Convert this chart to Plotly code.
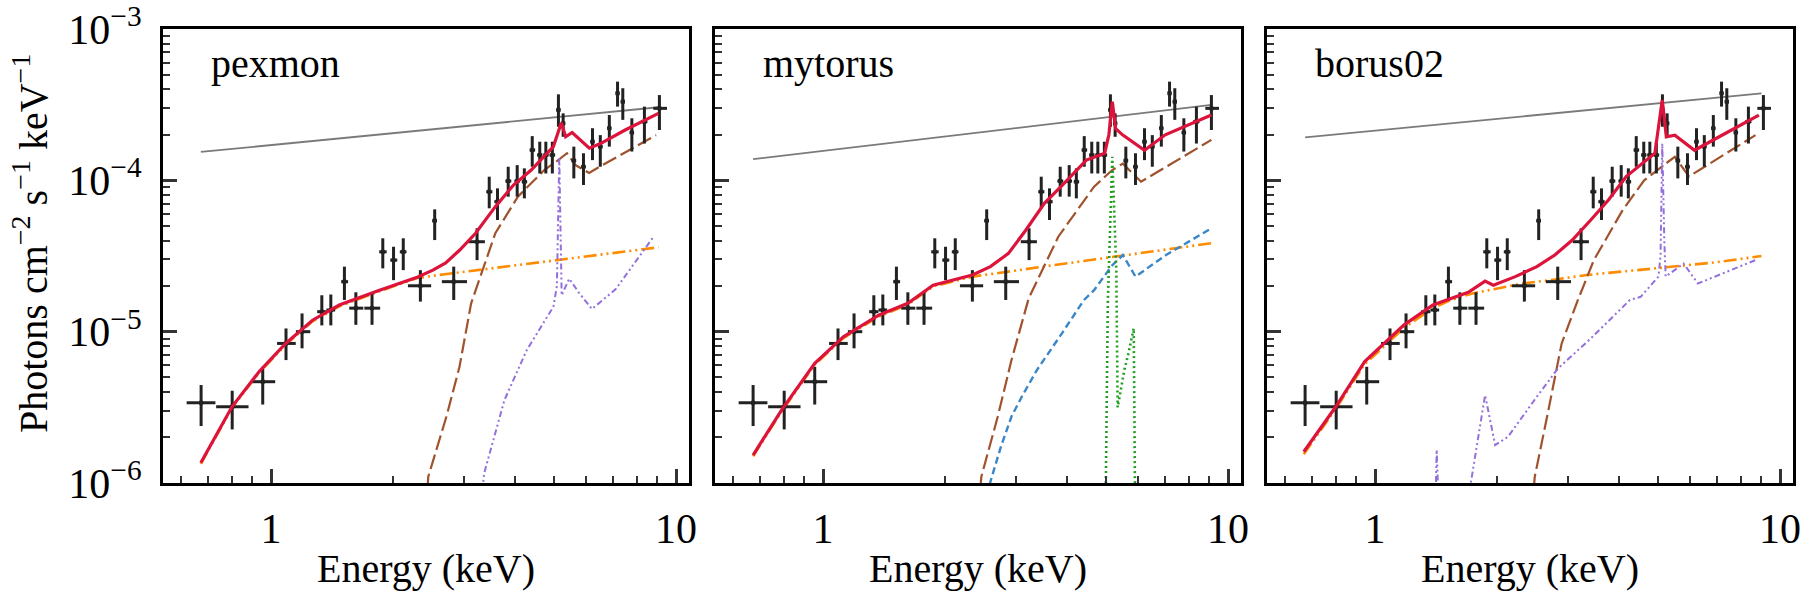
import plotly.graph_objects as go

W, H = 1814, 599

# ---------------- observed spectrum (same in all panels) ----------------
energy = [0.672, 0.802, 0.954, 1.089, 1.193, 1.335, 1.405, 1.518, 1.62, 1.776, 1.888, 2.007, 2.121,
          2.338, 2.536, 2.826, 3.227, 3.458, 3.625, 3.852, 4.054, 4.222, 4.416, 4.609, 4.771, 4.951,
          5.125, 5.264, 5.594, 5.909, 6.220, 6.503, 6.845, 7.172, 7.39, 7.78, 8.356, 9.10]
energy_lo = [0.619, 0.732, 0.897, 1.035, 1.152, 1.30, 1.37, 1.49, 1.56, 1.70, 1.85, 1.97, 2.08,
             2.178, 2.50, 2.642, 3.078, 3.40, 3.56, 3.79, 3.99, 4.16, 4.35, 4.54, 4.70, 4.87,
             5.06, 5.20, 5.52, 5.83, 6.14, 6.42, 6.76, 7.09, 7.30, 7.68, 8.20, 8.79]
energy_hi = [0.729, 0.88, 1.024, 1.151, 1.25, 1.37, 1.44, 1.55, 1.69, 1.86, 1.93, 2.05, 2.16,
             2.486, 2.57, 3.048, 3.374, 3.52, 3.69, 3.92, 4.12, 4.29, 4.49, 4.68, 4.85, 5.03,
             5.19, 5.33, 5.67, 5.99, 6.30, 6.59, 6.93, 7.26, 7.48, 7.88, 8.50, 9.50]
flux = [3.39e-6, 3.19e-6, 4.67e-6, 8.36e-6, 1.0e-5, 1.355e-5, 1.39e-5, 2.14e-5, 1.43e-5, 1.43e-5,
        3.37e-5, 2.97e-5, 3.37e-5, 2.01e-5, 5.41e-5, 2.14e-5, 3.93e-5, 8.41e-5, 7.23e-5, 9.89e-5,
        9.89e-5, 9.79e-5, 1.585e-4, 1.47e-4, 1.47e-4, 1.47e-4, 2.92e-4, 2.38e-4, 1.35e-4, 1.23e-4,
        1.80e-4, 1.67e-4, 2.21e-4, 3.76e-4, 3.31e-4, 2.07e-4, 2.44e-4, 2.99e-4]
flux_lo = [2.38e-6, 2.26e-6, 3.30e-6, 6.49e-6, 7.76e-6, 1.10e-5, 1.10e-5, 1.62e-5, 1.11e-5, 1.11e-5,
           2.62e-5, 2.19e-5, 2.55e-5, 1.58e-5, 4.03e-5, 1.62e-5, 2.97e-5, 6.53e-5, 5.47e-5, 7.80e-5,
           7.80e-5, 7.60e-5, 1.23e-4, 1.11e-4, 1.11e-4, 1.11e-4, 2.26e-4, 1.94e-4, 1.03e-4, 9.31e-5,
           1.36e-4, 1.23e-4, 1.67e-4, 3.07e-4, 2.51e-4, 1.55e-4, 1.75e-4, 2.15e-4]
flux_hi = [4.44e-6, 4.07e-6, 5.86e-6, 1.05e-5, 1.32e-5, 1.74e-5, 1.76e-5, 2.69e-5, 1.82e-5, 1.82e-5,
           4.14e-5, 3.64e-5, 4.14e-5, 2.55e-5, 6.43e-5, 2.69e-5, 4.82e-5, 1.057e-4, 8.85e-5, 1.23e-4,
           1.26e-4, 1.20e-4, 1.96e-4, 1.80e-4, 1.80e-4, 1.80e-4, 3.70e-4, 2.77e-4, 1.67e-4, 1.51e-4,
           2.21e-4, 1.99e-4, 2.70e-4, 4.49e-4, 4.06e-4, 2.57e-4, 3.07e-4, 3.66e-4]

panel_names = ["pexmon", "mytorus", "borus02"]

# ---------------- pexmon model ----------------
pex_intr_e = [0.671, 9.05]
pex_intr_f = [1.54e-4, 3.04e-4]
pex_total_e = [0.671, 0.801, 0.934, 1.087, 1.266, 1.474, 1.853, 2.296, 2.51, 2.70, 2.92, 3.20, 3.58,
               3.97, 4.39, 4.98, 5.21, 5.34, 5.54, 6.11, 6.51, 7.49, 9.05]
pex_total_f = [1.36e-6, 3.19e-6, 5.43e-6, 8.36e-6, 1.19e-5, 1.50e-5, 1.88e-5, 2.29e-5, 2.55e-5,
               2.85e-5, 3.45e-5, 4.47e-5, 6.70e-5, 9.31e-5, 1.17e-4, 1.67e-4, 2.40e-4, 1.94e-4,
               2.07e-4, 1.63e-4, 1.75e-4, 2.15e-4, 2.77e-4]
pex_scat_e = [0.671, 0.801, 0.934, 1.087, 1.266, 1.474, 1.853, 2.296, 2.6, 3.5, 5.0, 7.0, 9.05]
pex_scat_f = [1.34e-6, 3.14e-6, 5.35e-6, 8.2e-6, 1.17e-5, 1.47e-5, 1.85e-5, 2.26e-5, 2.37e-5,
              2.62e-5, 2.96e-5, 3.31e-5, 3.61e-5]
pex_refl_e = [2.40, 2.445, 2.71, 2.92, 3.12, 3.58, 4.07, 4.73, 5.10, 5.38, 5.65, 6.10, 6.58, 8.93]
pex_refl_f = [5.0e-7, 1.10e-6, 2.74e-6, 5.86e-6, 1.54e-5, 4.47e-5, 7.80e-5, 1.17e-4, 1.35e-4,
              1.51e-4, 1.26e-4, 1.12e-4, 1.26e-4, 1.99e-4]
pex_line_e = [3.25, 3.36, 3.77, 4.28, 4.98, 5.08, 5.15, 5.22, 5.45, 5.75, 6.2, 7.1, 8.8]
pex_line_f = [5.0e-7, 1.16e-6, 3.53e-6, 7.55e-6, 1.46e-5, 2.0e-5, 1.43e-4, 1.74e-5, 2.24e-5,
              1.82e-5, 1.41e-5, 1.91e-5, 4.24e-5]

# ---------------- mytorus model ----------------
myt_intr_e = [0.672, 9.1]
myt_intr_f = [1.38e-4, 3.15e-4]
myt_total_e = [0.672, 0.79, 0.954, 1.123, 1.376, 1.62, 1.87, 2.338, 2.59, 2.87, 3.17, 3.52, 3.90,
               4.47, 4.96, 5.08, 5.18, 5.28, 5.5, 6.22, 7.0, 9.1]
myt_total_f = [1.53e-6, 3.03e-6, 6.17e-6, 9.25e-6, 1.29e-5, 1.54e-5, 2.03e-5, 2.37e-5, 2.69e-5,
               3.29e-5, 4.70e-5, 7.05e-5, 9.31e-5, 1.36e-4, 1.51e-4, 2.0e-4, 3.31e-4, 2.19e-4,
               1.99e-4, 1.58e-4, 2.0e-4, 2.70e-4]
myt_scat_e = [0.672, 0.79, 0.954, 1.123, 1.376, 1.62, 1.87, 2.34, 3.5, 5.0, 7.0, 9.1]
myt_scat_f = [1.50e-6, 2.97e-6, 6.05e-6, 9.07e-6, 1.26e-5, 1.51e-5, 1.99e-5, 2.31e-5, 2.69e-5,
              3.07e-5, 3.48e-5, 3.84e-5]
myt_refl_e = [2.40, 2.46, 2.70, 2.92, 3.22, 3.81, 4.67, 5.18, 5.5, 5.85, 6.10, 9.1]
myt_refl_f = [5.0e-7, 1.10e-6, 2.74e-6, 6.49e-6, 1.66e-5, 4.24e-5, 9.08e-5, 1.17e-4, 1.29e-4,
              1.10e-4, 9.79e-5, 1.85e-4]
myt_torus_e = [2.52, 2.59, 2.75, 2.92, 3.11, 3.38, 3.89, 4.41, 4.67, 5.18, 5.5, 5.91, 7.03, 9.1]
myt_torus_f = [5.0e-7, 1.02e-6, 1.74e-6, 2.75e-6, 3.80e-6, 5.62e-6, 9.75e-6, 1.62e-5, 1.88e-5,
               2.75e-5, 3.21e-5, 2.31e-5, 3.21e-5, 4.82e-5]
myt_line_e = [4.97, 5.05, 5.18, 5.30, 5.34, 5.44, 5.55, 5.67, 5.79, 5.85, 5.91]
myt_line_f = [3.2e-7, 1.58e-5, 1.43e-4, 2.51e-5, 3.16e-6, 4.27e-6, 5.62e-6, 7.08e-6, 9.33e-6,
              1.05e-5, 3.2e-7]

# ---------------- borus02 model ----------------
bor_intr_e = [0.672, 9.0]
bor_intr_f = [1.92e-4, 3.76e-4]
bor_total_e = [0.667, 0.80, 0.943, 1.18, 1.39, 1.54, 1.70, 1.87, 1.96, 2.22, 2.51, 2.78, 3.07, 3.41,
               3.77, 4.17, 4.62, 4.91, 5.12, 5.24, 5.50, 6.15, 6.95, 8.87]
bor_total_f = [1.61e-6, 3.19e-6, 6.34e-6, 1.11e-5, 1.50e-5, 1.66e-5, 1.82e-5, 2.16e-5, 2.03e-5,
               2.31e-5, 2.69e-5, 3.21e-5, 4.03e-5, 5.47e-5, 7.41e-5, 1.06e-4, 1.33e-4, 1.51e-4,
               3.40e-4, 1.94e-4, 1.99e-4, 1.58e-4, 1.89e-4, 2.70e-4]
bor_scat_e = [0.667, 0.80, 0.943, 1.18, 1.39, 1.54, 1.74, 2.31, 2.78, 3.34, 5.0, 7.0, 9.0]
bor_scat_f = [1.55e-6, 3.09e-6, 6.10e-6, 1.06e-5, 1.43e-5, 1.62e-5, 1.79e-5, 2.08e-5, 2.21e-5,
              2.37e-5, 2.63e-5, 2.88e-5, 3.16e-5]
bor_refl_e = [2.42, 2.48, 2.67, 2.89, 3.17, 3.47, 4.09, 4.62, 5.22, 5.5, 5.96, 8.7]
bor_refl_f = [5.0e-7, 1.10e-6, 2.88e-6, 8.36e-6, 1.62e-5, 2.97e-5, 6.37e-5, 1.00e-4, 1.29e-4,
              1.43e-4, 1.06e-4, 1.99e-4]
bor_line_e = [1.40, 1.42, 1.45, 1.68, 1.70, 1.81, 1.87, 1.98, 2.13, 2.51, 2.83, 3.41, 4.26, 4.53,
              5.01, 5.07, 5.12, 5.18, 5.22, 5.78, 6.27, 8.7]
bor_line_f = [3.2e-7, 1.66e-6, 3.2e-7, 3.2e-7, 7.94e-7, 2.34e-6, 3.81e-6, 1.78e-6, 2.02e-6,
              3.72e-6, 5.71e-6, 9.02e-6, 1.62e-5, 1.70e-5, 2.31e-5, 3.16e-5, 1.75e-4, 3.98e-5,
              2.31e-5, 2.82e-5, 2.08e-5, 2.97e-5]

# ---------------- styles ----------------
FONT = "Liberation Serif"
C_DATA = "#222222"
S_INTR = dict(color="#7a7a7a", width=1.8)
S_TOTAL = dict(color="#dc143c", width=3.2)
S_SCAT = dict(color="#ff8c00", width=2.6, dash="13px,4px,2px,4px,2px,4px")
S_REFL = dict(color="#a0522d", width=2.2, dash="15px,5px")
S_LINE = dict(color="#9370db", width=2.0, dash="6px,3px,2px,3px,2px,3px")
S_TORUS = dict(color="#3a86c8", width=2.4, dash="7px,4px")
S_GREEN = dict(color="#1f9e1f", width=2.6, dash="2px,3px")

panels = [
    [(pex_intr_e, pex_intr_f, S_INTR), (pex_scat_e, pex_scat_f, S_SCAT),
     (pex_refl_e, pex_refl_f, S_REFL), (pex_line_e, pex_line_f, S_LINE)],
    [(myt_intr_e, myt_intr_f, S_INTR), (myt_scat_e, myt_scat_f, S_SCAT),
     (myt_refl_e, myt_refl_f, S_REFL), (myt_torus_e, myt_torus_f, S_TORUS),
     (myt_line_e, myt_line_f, S_GREEN)],
    [(bor_intr_e, bor_intr_f, S_INTR), (bor_scat_e, bor_scat_f, S_SCAT),
     (bor_refl_e, bor_refl_f, S_REFL), (bor_line_e, bor_line_f, S_LINE)],
]
totals = [(pex_total_e, pex_total_f), (myt_total_e, myt_total_f), (bor_total_e, bor_total_f)]

# ---------------- layout geometry (pixels) ----------------
px_left = [163, 715, 1267]
px_width = 526
px_top, px_bottom = 29, 483

fig = go.Figure()

ex_plus = [h - e for h, e in zip(energy_hi, energy)]
ex_minus = [e - l for e, l in zip(energy, energy_lo)]
ey_plus = [h - f for h, f in zip(flux_hi, flux)]
ey_minus = [f - l for f, l in zip(flux, flux_lo)]

for i in range(3):
    xa = "x" if i == 0 else f"x{i+1}"
    ya = "y" if i == 0 else f"y{i+1}"
    for (xe, yf, st) in panels[i]:
        fig.add_trace(go.Scatter(x=xe, y=yf, mode="lines", line=st, xaxis=xa, yaxis=ya,
                                 showlegend=False, hoverinfo="skip"))
    fig.add_trace(go.Scatter(
        x=energy, y=flux, mode="markers", xaxis=xa, yaxis=ya, showlegend=False,
        marker=dict(symbol="square", size=4, color=C_DATA),
        error_x=dict(type="data", symmetric=False, array=ex_plus, arrayminus=ex_minus,
                     thickness=3, width=0, color=C_DATA),
        error_y=dict(type="data", symmetric=False, array=ey_plus, arrayminus=ey_minus,
                     thickness=3, width=0, color=C_DATA)))
    fig.add_trace(go.Scatter(x=totals[i][0], y=totals[i][1], mode="lines", line=S_TOTAL,
                             xaxis=xa, yaxis=ya, showlegend=False, hoverinfo="skip"))

x_minor = [0.6, 0.7, 0.8, 0.9, 2, 3, 4, 5, 6, 7, 8, 9]
y_minor = [m * 10 ** d for d in (-6, -5, -4) for m in range(2, 10)]
y_major = [1e-6, 1e-5, 1e-4, 1e-3]
y_major_text = ["10<sup>−6</sup>", "10<sup>−5</sup>", "10<sup>−4</sup>", "10<sup>−3</sup>"]

layout = dict(template="none", width=W, height=H, margin=dict(l=0, r=0, t=0, b=0, autoexpand=False),
              paper_bgcolor="white", plot_bgcolor="white",
              font=dict(family=FONT, size=38, color="black"))
ydom = [(H - px_bottom) / H, (H - px_top) / H]
annotations = []
for i in range(3):
    xd = [px_left[i] / W, (px_left[i] + px_width) / W]
    xkey = "xaxis" if i == 0 else f"xaxis{i+1}"
    ykey = "yaxis" if i == 0 else f"yaxis{i+1}"
    layout[xkey] = dict(
        type="log", range=[-0.2667, 1.0321], domain=xd, anchor="y" if i == 0 else f"y{i+1}",
        automargin=False, showline=True, mirror=True, linecolor="black", linewidth=3,
        showgrid=False, zeroline=False,
        ticks="inside", ticklen=14, tickwidth=2.6, tickcolor="#333333",
        tickmode="array", tickvals=[1, 10], ticktext=["1", "10"],
        tickfont=dict(family=FONT, size=42, color="black"), ticklabelstandoff=7,
        ticklabeloverflow="allow",
        minor=dict(ticks="inside", ticklen=7, tickwidth=2.2, tickcolor="#333333",
                   tickmode="array", tickvals=x_minor, showgrid=False),
    )
    layout[ykey] = dict(
        type="log", range=[-6, -3], domain=ydom, anchor="x" if i == 0 else f"x{i+1}",
        automargin=False, showline=True, mirror=True, linecolor="black", linewidth=3,
        showgrid=False, zeroline=False,
        ticks="inside", ticklen=14, tickwidth=2.6, tickcolor="#333333",
        tickmode="array", tickvals=y_major, ticktext=y_major_text,
        showticklabels=(i == 0), ticklabelstandoff=10, ticklabeloverflow="allow",
        tickfont=dict(family=FONT, size=42, color="black"),
        minor=dict(ticks="inside", ticklen=7, tickwidth=2.2, tickcolor="#333333",
                   tickmode="array", tickvals=y_minor, showgrid=False),
    )
    annotations.append(dict(text=panel_names[i], xref="paper", yref="paper",
                            x=(px_left[i] + 46) / W, y=(H - 63) / H, xanchor="left",
                            yanchor="middle", showarrow=False,
                            font=dict(family=FONT, size=40, color="black")))
    annotations.append(dict(text="Energy (keV)", xref="paper", yref="paper",
                            x=(px_left[i] + px_width / 2) / W, y=(H - 568) / H,
                            xanchor="center", yanchor="middle", showarrow=False,
                            font=dict(family=FONT, size=40, color="black")))
annotations.append(dict(text="Photons cm<sup>−2</sup> s<sup>−1</sup> keV<sup>−1</sup>",
                        xref="paper", yref="paper", x=30 / W, y=(H - 244) / H, textangle=-90,
                        xanchor="center", yanchor="middle", showarrow=False,
                        font=dict(family=FONT, size=40, color="black")))
layout["annotations"] = annotations
fig.update_layout(**layout)

fig.write_html("out.html")
